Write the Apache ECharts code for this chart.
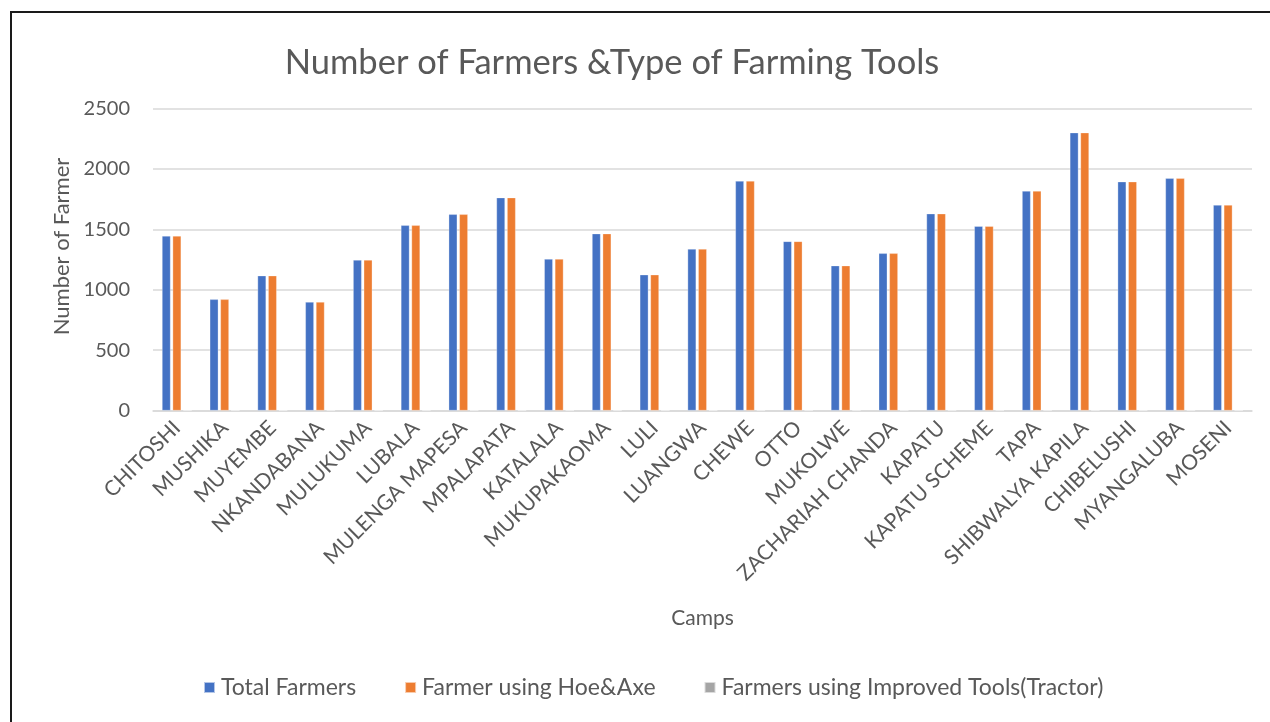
<!DOCTYPE html>
<html>
<head>
<meta charset="utf-8">
<script src="https://cdn.jsdelivr.net/npm/echarts@6/dist/echarts.min.js"></script>
<style>
  html, body { margin: 0; padding: 0; background: #fff; }
  #chart { width: 1270px; height: 722px; }
</style>
</head>
<body>
<div id="chart"></div>
<script>
// Farming camps and their farmer counts
const camps = [
  'CHITOSHI', 'MUSHIKA', 'MUYEMBE', 'NKANDABANA', 'MULUKUMA', 'LUBALA',
  'MULENGA MAPESA', 'MPALAPATA', 'KATALALA', 'MUKUPAKAOMA', 'LULI', 'LUANGWA',
  'CHEWE', 'OTTO', 'MUKOLWE', 'ZACHARIAH CHANDA', 'KAPATU', 'KAPATU SCHEME',
  'TAPA', 'SHIBWALYA KAPILA', 'CHIBELUSHI', 'MYANGALUBA', 'MOSENI'
];
const totalFarmers = [
  1445, 920, 1116, 898, 1246, 1533,
  1624, 1762, 1254, 1464, 1124, 1337,
  1900, 1400, 1199, 1301, 1629, 1525,
  1817, 2300, 1894, 1922, 1701
];
const hoeAxeFarmers = [
  1445, 920, 1116, 898, 1246, 1533,
  1624, 1762, 1254, 1464, 1124, 1337,
  1900, 1400, 1199, 1301, 1629, 1525,
  1817, 2300, 1894, 1922, 1701
];
const tractorFarmers = [
  0, 0, 0, 0, 0, 0,
  0, 0, 0, 0, 0, 0,
  0, 0, 0, 0, 0, 0,
  0, 0, 0, 0, 0
];
const seriesNames = ['Total Farmers', 'Farmer using Hoe&Axe', 'Farmers using Improved Tools(Tractor)'];
const yTicks = { min: 0, max: 2500, interval: 500 };

const FONT = 'Lato';
const TEXT = '#595959';

const chart = echarts.init(document.getElementById('chart'), null, { renderer: 'canvas' });

const barStyle = (color) => ({
  type: 'bar',
  barWidth: 8.5,
  barGap: '25%',
  itemStyle: { color: color, borderColor: 'rgba(255,255,255,0.6)', borderWidth: 0.5 }
});

chart.setOption({
  backgroundColor: '#fff',
  animation: false,
  title: {
    text: 'Number of Farmers &Type of Farming Tools',
    left: 607,
    textAlign: 'center',
    top: 40,
    textStyle: { fontFamily: FONT, fontSize: 34.5, fontWeight: 'normal', color: TEXT }
  },
  legend: {
    left: 198,
    top: 671,
    itemWidth: 11,
    itemHeight: 11,
    itemGap: 48,
    icon: 'rect',
    textStyle: { fontFamily: FONT, fontSize: 23, color: TEXT, padding: [0, 0, 0, 1] },
    data: seriesNames
  },
  grid: { left: 153, right: 18, top: 108.5, bottom: 311.5, containLabel: false },
  xAxis: {
    type: 'category',
    data: camps,
    name: 'Camps',
    nameLocation: 'middle',
    nameGap: 197,
    nameTextStyle: { fontFamily: FONT, fontSize: 21, color: TEXT },
    axisLine: { lineStyle: { color: '#d9d9d9', width: 1.5 } },
    axisTick: { show: false },
    axisLabel: {
      interval: 0,
      rotate: 45,
      margin: 14,
      fontFamily: FONT,
      fontSize: 21,
      color: TEXT
    }
  },
  yAxis: {
    type: 'value',
    min: yTicks.min,
    max: yTicks.max,
    interval: yTicks.interval,
    name: 'Number of Farmer',
    nameLocation: 'middle',
    nameGap: 78,
    nameTextStyle: { fontFamily: FONT, fontSize: 22, color: TEXT, padding: [0, 0, 0, 26] },
    axisLine: { show: false },
    axisTick: { show: false },
    axisLabel: { margin: 23, fontFamily: FONT, fontSize: 20, color: TEXT, formatter: (v) => String(v) },
    splitLine: { lineStyle: { color: '#d9d9d9', width: 1.5 } }
  },
  series: [
    Object.assign({ name: seriesNames[0], data: totalFarmers }, barStyle('#4472c4')),
    Object.assign({ name: seriesNames[1], data: hoeAxeFarmers }, barStyle('#ed7d31')),
    Object.assign({ name: seriesNames[2], data: tractorFarmers }, barStyle('#a5a5a5'))
  ],
  graphic: [{
    type: 'rect',
    left: 8.5,
    top: 9.5,
    shape: { x: 0, y: 0, width: 1300, height: 800 },
    style: { fill: 'none', stroke: '#1a1a1a', lineWidth: 2 },
    silent: true,
    z: 100
  }]
});
</script>
</body>
</html>
